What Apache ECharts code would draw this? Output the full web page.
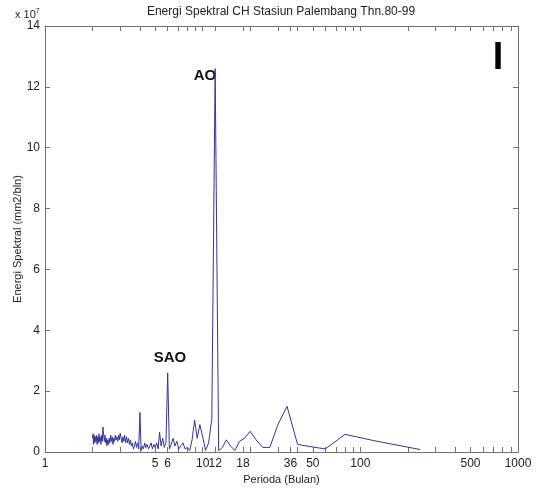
<!DOCTYPE html>
<html>
<head>
<meta charset="utf-8">
<script src="https://cdn.jsdelivr.net/npm/echarts@6/dist/echarts.min.js"></script>
<style>html,body{margin:0;padding:0;background:#fff}#c{width:537px;height:488px}</style>
</head>
<body>
<div id="c"></div>
<script>
// Periods (months), ascending
var periods = [2.00,2.02,2.03,2.05,2.07,2.09,2.11,2.12,2.14,2.16,2.18,2.20,2.22,2.24,2.26,2.29,2.31,2.33,2.35,2.38,
2.40,2.42,2.45,2.47,2.50,2.53,2.55,2.58,2.61,2.64,2.67,2.70,2.73,2.76,2.79,2.82,2.86,2.89,2.93,2.96,
3.00,3.04,3.08,3.12,3.16,3.20,3.24,3.29,3.33,3.38,3.43,3.48,3.53,3.58,3.64,3.69,3.75,3.81,3.87,3.93,
4.00,4.07,4.14,4.21,4.29,4.36,4.44,4.53,4.62,4.71,4.80,4.90,5.00,5.11,5.22,5.33,5.45,5.58,5.71,5.85,
6.00,6.15,6.32,6.49,6.67,6.86,7.06,7.27,7.50,7.74,8.00,8.28,8.57,8.89,9.23,9.60,10.00,10.43,10.91,11.43,
12.00,12.63,13.33,14.12,15.00,16.00,17.14,18.46,20.00,21.82,24.00,26.67,30.00,34.29,40.00,48.00,60.00,80.00,120.00,240.00];
// Spectral energy (x 10^7 mm2/bln)
var energy = [0.45,0.6,0.25,0.55,0.3,0.5,0.35,0.55,0.25,0.5,0.3,0.6,0.35,0.5,0.25,0.55,0.35,0.82,0.6,0.35,
0.55,0.3,0.45,0.2,0.4,0.25,0.45,0.3,0.55,0.35,0.5,0.25,0.45,0.35,0.55,0.4,0.5,0.35,0.55,0.4,
0.62,0.45,0.3,0.5,0.35,0.55,0.3,0.5,0.3,0.45,0.25,0.4,0.2,0.3,0.1,0.2,0.35,0.15,0.3,0.1,
1.3,0.05,0.2,0.1,0.3,0.15,0.25,0.1,0.2,0.3,0.1,0.25,0.15,0.3,0.1,0.65,0.2,0.45,0.15,0.3,
2.6,0.1,0.25,0.45,0.2,0.35,0.1,0.2,0.3,0.1,0.15,0.05,0.4,1.05,0.45,0.9,0.5,0.05,0.3,1.1,
12.6,0.05,0.15,0.4,0.2,0.05,0.35,0.45,0.68,0.4,0.15,0.15,0.9,1.5,0.25,0.18,0.1,0.58,0.38,0.08];
var xLabelValues = [1,5,6,10,12,18,36,50,100,500,1000];
var xTickValues = [1,2,3,4,5,6,7,8,9,10,12,18,20,30,36,40,50,60,70,80,90,100,200,300,400,500,600,700,800,900,1000];
var yTicks = [0,2,4,6,8,10,12,14];

var FONT = 'Liberation Sans, Arial, sans-serif';
var axisCol = '#707070';
var chart = echarts.init(document.getElementById('c'), null, {renderer:'canvas'});
var data = periods.map(function(p,i){return [p, energy[i]];});
var tickStyle = {show:true, inside:true, length:5, lineStyle:{color:axisCol, width:1}};
chart.setOption({
  animation:false,
  backgroundColor:'#fff',
  grid:{left:45, right:19, top:26, bottom:36, show:false, containLabel:false, outerBoundsMode:'none'},
  xAxis:[{
    type:'log', logBase:10, min:1, max:1000,
    axisLine:{show:true, lineStyle:{color:axisCol, width:1}},
    axisTick:Object.assign({customValues:xTickValues}, tickStyle),
    axisLabel:{show:true, customValues:xLabelValues, color:'#222', fontSize:12, fontFamily:FONT, margin:6,
      formatter:function(v){return String(Math.round(v));}},
    splitLine:{show:false}, minorTick:{show:false},
    name:'Perioda (Bulan)', nameLocation:'middle', nameGap:20,
    nameTextStyle:{color:'#222', fontSize:11, fontFamily:FONT}
  },{
    type:'log', logBase:10, min:1, max:1000, position:'top',
    axisLine:{show:true, onZero:false, lineStyle:{color:axisCol, width:1}},
    axisTick:Object.assign({customValues:xTickValues}, tickStyle),
    axisLabel:{show:false}, splitLine:{show:false}
  }],
  yAxis:[{
    type:'value', min:0, max:14, interval:2,
    axisLine:{show:true, lineStyle:{color:axisCol, width:1}},
    axisTick:tickStyle,
    axisLabel:{color:'#222', fontSize:12, fontFamily:FONT, margin:5},
    splitLine:{show:false}
  },{
    type:'value', min:0, max:14, interval:2, position:'right',
    axisLine:{show:true, lineStyle:{color:axisCol, width:1}},
    axisTick:tickStyle, axisLabel:{show:false}, splitLine:{show:false}
  }],
  series:[{
    type:'line', data:data, xAxisIndex:0, yAxisIndex:0,
    showSymbol:false, symbol:'none',
    lineStyle:{color:'#34349a', width:1}
  }],
  graphic:[
    {type:'text', x:281, y:12, style:{text:'Energi Spektral CH Stasiun Palembang Thn.80-99', fill:'#222', font:'12px '+FONT, align:'center', verticalAlign:'middle'}},
    {type:'text', x:18, y:239, rotation:Math.PI/2, style:{text:'Energi Spektral (mm2/bln)', fill:'#222', font:'11px '+FONT, align:'center', verticalAlign:'middle'}},
    {type:'text', x:15, y:15, style:{text:'x 10{s|7}', rich:{s:{fontSize:7, verticalAlign:'top', padding:[0,0,8,0], fill:'#222'}}, fill:'#222', font:'11px '+FONT, verticalAlign:'middle'}},
    {type:'text', x:205, y:76, style:{text:'AO', fill:'#111', font:'bold 15px '+FONT, align:'center', verticalAlign:'middle'}},
    {type:'text', x:170, y:358, style:{text:'SAO', fill:'#111', font:'bold 15px '+FONT, align:'center', verticalAlign:'middle'}},
    {type:'text', x:498, y:59, style:{text:'I', fill:'#000', font:'bold 38px '+FONT, align:'center', verticalAlign:'middle'}}
  ]
});
</script>
</body>
</html>
